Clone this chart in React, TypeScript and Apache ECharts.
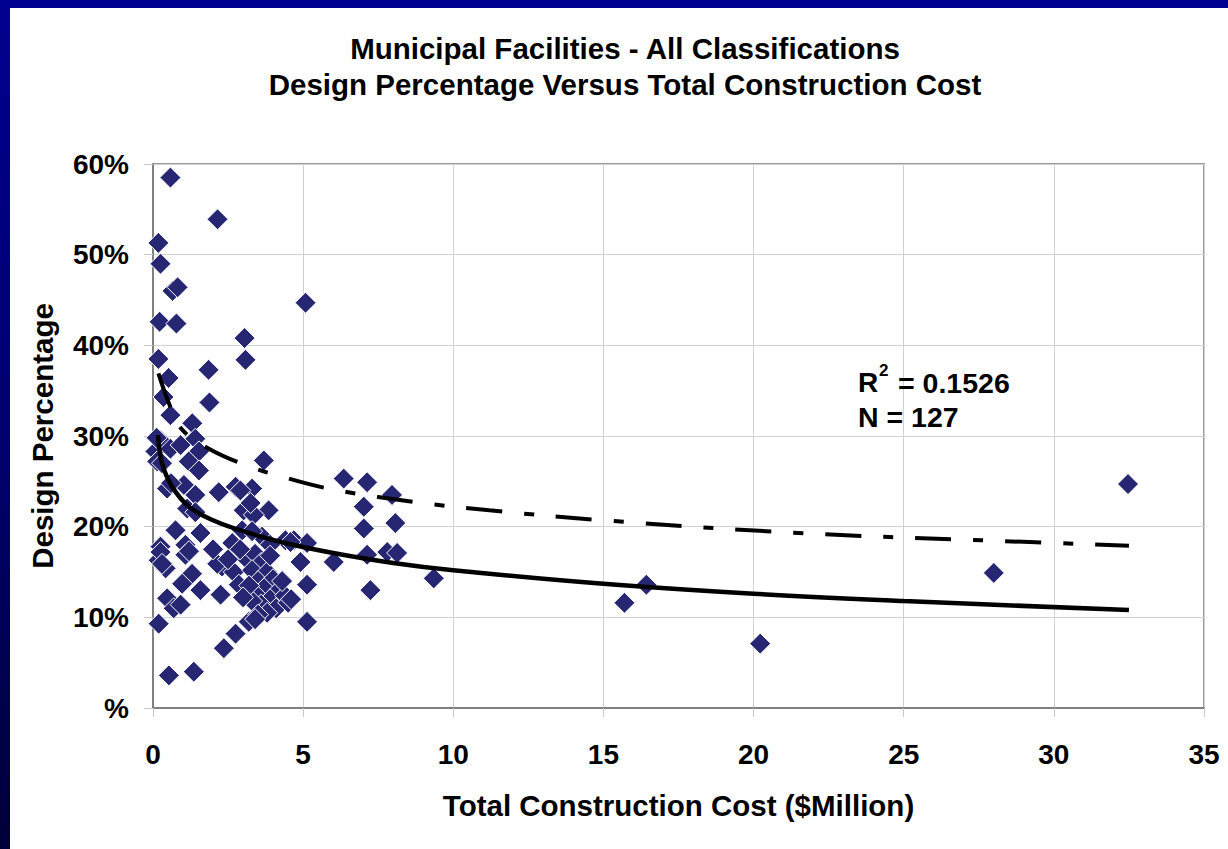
import React, { useEffect, useRef } from "react";
import * as echarts from "echarts";

// Scatter: total construction cost ($ million) vs design percentage (%)
const costMillion = [
  0.58, 2.15, 0.18, 0.25, 0.65, 0.82, 0.22, 0.78, 5.08, 3.05,
  3.08, 0.18, 0.52, 1.85, 0.35, 1.88, 0.58, 1.31, 0.25, 0.08,
  0.14, 0.58, 0.92, 1.41, 1.53, 1.19, 1.53, 0.12, 0.3, 0.47,
  1.03, 1.41, 2.19, 2.75, 1.14, 1.41, 3.69, 3.3, 2.91, 3.02,
  3.85, 3.36, 3.25, 6.35, 7.13, 7.96, 7.02, 8.07, 7.02, 0.75,
  1.58, 0.25, 1.08, 2.64, 3.63, 2.97, 4.41, 4.69, 5.13, 4.58,
  3.3, 3.9, 7.8, 8.13, 7.13, 6.02, 4.91, 5.13, 7.24, 9.35,
  5.13, 15.7, 16.43, 20.22, 28.0, 32.47, 0.19, 1.08, 0.42, 1.3,
  0.97, 1.58, 2.25, 0.47, 0.69, 0.92, 0.19, 2.3, 2.69, 2.86,
  2.75, 2.36, 0.53, 1.36, 3.19, 0.25, 2.14, 0.3, 3.1, 3.4,
  3.6, 3.3, 3.8, 3.5, 4.0, 3.7, 4.2, 3.4, 3.9, 4.4,
  3.6, 4.1, 3.8, 4.5, 3.3, 3.2, 4.3, 3.0, 3.5, 3.9,
  2.9, 4.6, 3.4, 2.0, 1.2, 0.6, 2.5,
];
const designPct = [
  58.5, 53.9, 51.3, 49.0, 46.0, 46.4, 42.6, 42.4, 44.7, 40.8,
  38.4, 38.5, 36.4, 37.3, 34.3, 33.7, 32.3, 31.4, 29.5, 28.3,
  27.2, 28.6, 29.0, 29.7, 28.3, 27.2, 26.2, 29.8, 27.0, 24.2,
  24.6, 23.5, 23.8, 24.4, 22.0, 21.6, 27.3, 24.2, 24.0, 21.8,
  21.8, 21.3, 22.6, 25.3, 24.9, 23.5, 22.2, 20.4, 19.8, 19.6,
  19.3, 17.8, 18.0, 18.2, 18.9, 19.6, 18.5, 18.5, 18.2, 18.3,
  19.5, 18.0, 17.2, 17.1, 16.9, 16.1, 16.1, 13.6, 13.0, 14.3,
  9.5, 11.6, 13.6, 7.1, 14.9, 24.7, 16.3, 16.9, 15.4, 14.8,
  13.7, 13.0, 12.5, 12.1, 11.0, 11.4, 9.3, 15.6, 15.0, 13.6,
  8.2, 6.6, 3.6, 4.0, 9.5, 17.2, 15.9, 15.9, 16.5, 17.0,
  16.0, 15.2, 15.0, 14.0, 14.2, 13.2, 13.0, 12.6, 12.0, 12.4,
  11.4, 11.0, 10.5, 11.6, 11.8, 13.5, 14.0, 12.2, 10.3, 16.8,
  17.5, 12.0, 9.8, 17.5, 17.3, 24.8, 16.4,
];

// Trend line (solid)
const trendX = [0.17, 0.3, 0.64, 1.2, 2, 3, 4.4, 6, 8, 10, 15, 20, 25, 32.5];
const trendY = [30.1, 27.0, 24.4, 22.2, 20.7, 19.5, 18.2, 17.1, 16.0, 15.2, 13.7, 12.6, 11.8, 10.8];

// Upper line (dash-dot)
const upperX = [0.18, 0.58, 0.97, 1.86, 3.0, 4.1, 6.0, 9.0, 11.2, 15, 21.5, 27.6, 32.5];
const upperY = [36.9, 33.2, 30.7, 28.6, 26.9, 25.7, 24.1, 22.6, 21.8, 20.7, 19.3, 18.5, 17.9];

const xTicks = { min: 0, max: 35, interval: 5 };
const yTicks = { min: 0, max: 60, interval: 10 };

const titleLines = [
  "Municipal Facilities - All Classifications",
  "Design Percentage Versus Total Construction Cost",
];
const rSquared = "0.1526";
const nCount = "127";

const FONT = "'Liberation Sans', Arial, Helvetica, sans-serif";

export default function App() {
  const ref = useRef<HTMLDivElement>(null);

  useEffect(() => {
    if (!ref.current) return;
    const chart = echarts.init(ref.current, null, { renderer: "svg" });

    const scatterData = costMillion.map((x, i) => [x, designPct[i]]);
    const trendData = trendX.map((x, i) => [x, trendY[i]]);
    const upperData = upperX.map((x, i) => [x, upperY[i]]);

    const labelStyle = {
      fontFamily: FONT,
      fontWeight: "bold" as const,
      fontSize: 28,
      color: "#000",
    };
    const bigStyle = { ...labelStyle, fontSize: 29.5 };

    chart.setOption({
      animation: false,
      backgroundColor: "transparent",
      title: {
        text: titleLines.join("\n"),
        left: 620,
        top: 25,
        textAlign: "center",
        textStyle: { ...bigStyle, lineHeight: 36 },
      },
      grid: {
        left: 153,
        top: 164,
        right: 24,
        bottom: 141,
        show: true,
        borderColor: "#9a9a9a",
        borderWidth: 2,
        backgroundColor: "transparent",
      },
      xAxis: {
        type: "value",
        min: xTicks.min,
        max: xTicks.max,
        interval: xTicks.interval,
        name: "Total Construction Cost ($Million)",
        nameLocation: "middle",
        nameGap: 82,
        nameTextStyle: bigStyle,
        axisLine: { show: true, lineStyle: { color: "#808080", width: 2 } },
        axisTick: { show: true, length: 9, lineStyle: { color: "#c8c8c8", width: 1 } },
        axisLabel: { ...labelStyle, margin: 32 },
        splitLine: { show: true, lineStyle: { color: "#d2d2d2", width: 1 } },
      },
      yAxis: {
        type: "value",
        min: yTicks.min,
        max: yTicks.max,
        interval: yTicks.interval,
        name: "Design Percentage",
        nameLocation: "middle",
        nameGap: 96,
        nameTextStyle: bigStyle,
        axisLine: { show: true, lineStyle: { color: "#808080", width: 2 } },
        axisTick: { show: true, length: 9, lineStyle: { color: "#c8c8c8", width: 1 } },
        axisLabel: {
          ...labelStyle,
          margin: 24,
          formatter: (v: number) => (v === 0 ? "%" : `${v}%`),
        },
        splitLine: { show: true, lineStyle: { color: "#d2d2d2", width: 1 } },
      },
      series: [
        {
          type: "scatter",
          data: scatterData,
          symbol: "diamond",
          symbolSize: 21,
          itemStyle: { color: "#262673", opacity: 1, borderColor: "#ffffff", borderWidth: 1 },
          z: 2,
        },
        {
          type: "line",
          data: upperData,
          smooth: 0.4,
          showSymbol: false,
          lineStyle: { color: "#000", width: 4, type: [36, 22, 10, 22] },
          z: 3,
        },
        {
          type: "line",
          data: trendData,
          smooth: 0.4,
          showSymbol: false,
          lineStyle: { color: "#000", width: 4.5 },
          z: 3,
        },
      ],
      graphic: [
        {
          type: "text",
          left: 858,
          top: 368,
          style: { text: "R", fontFamily: FONT, fontWeight: "bold", fontSize: 28, fill: "#000" },
          z: 10,
        },
        {
          type: "text",
          left: 879,
          top: 362,
          style: { text: "2", fontFamily: FONT, fontWeight: "bold", fontSize: 17, fill: "#000" },
          z: 10,
        },
        {
          type: "text",
          left: 898,
          top: 368,
          style: { text: `= ${rSquared}`, fontFamily: FONT, fontWeight: "bold", fontSize: 28.5, fill: "#000" },
          z: 10,
        },
        {
          type: "text",
          left: 858,
          top: 402,
          style: { text: `N = ${nCount}`, fontFamily: FONT, fontWeight: "bold", fontSize: 28.5, fill: "#000" },
          z: 10,
        },
      ],
    });

    return () => chart.dispose();
  }, []);

  return (
    <div
      style={{
        position: "fixed",
        left: 0,
        top: 0,
        width: 1228,
        height: 849,
        background: "linear-gradient(to bottom, #00008e 0%, #000070 50%, #000038 100%)",
      }}
    >
      <div
        style={{
          position: "absolute",
          left: 10,
          top: 8,
          right: 0,
          bottom: 0,
          background: "#ffffff",
        }}
      />
      <div
        ref={ref}
        style={{ position: "absolute", left: 0, top: 0, width: 1228, height: 849 }}
      />
    </div>
  );
}
